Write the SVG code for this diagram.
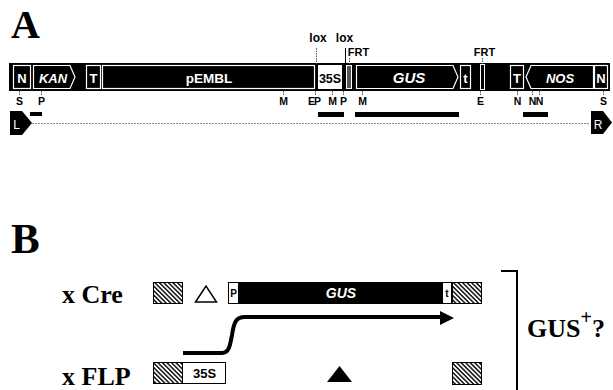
<svg xmlns="http://www.w3.org/2000/svg" width="613" height="390" viewBox="0 0 613 390">
<defs>
<pattern id="hatch" width="6" height="3.2" patternUnits="userSpaceOnUse" patternTransform="rotate(45)">
<rect width="6" height="3.2" fill="#fff"/>
<line x1="0" y1="0.8" x2="6" y2="0.8" stroke="#000" stroke-width="1.4"/>
</pattern>
</defs>
<style>
.big{font-family:"Liberation Serif",serif;font-weight:bold;fill:#000}
.lbl{font-family:"Liberation Sans",Arial,sans-serif;font-weight:bold;fill:#000}
.wt{font-family:"Liberation Sans",Arial,sans-serif;font-weight:bold;fill:#fff}
.it{font-style:italic}
.box{fill:#000;stroke:#fff;stroke-width:1.2}
.tick{stroke:#555;stroke-width:1;stroke-dasharray:1.5,1}
.site{font-family:"Liberation Sans",Arial,sans-serif;font-weight:bold;font-size:10.5px;fill:#000;text-anchor:middle}
.hat{fill:url(#hatch);stroke:#000;stroke-width:1}
</style>
<rect width="613" height="390" fill="#fff"/>

<text class="big" x="11" y="38" font-size="40">A</text>
<text class="big" x="11" y="253" font-size="43">B</text>

<g id="construct">
<rect x="9" y="63" width="601" height="28" fill="#000"/>
<g id="N-left"><rect class="box" x="13.5" y="65.5" width="17" height="23"/><text class="wt" x="22" y="82.5" font-size="13" text-anchor="middle">N</text></g>
<g id="KAN"><path class="box" d="M33.5,65.5 H70 L75,77 L70,88.5 H33.5 Z"/><text class="wt it" x="53" y="82.5" font-size="13" text-anchor="middle">KAN</text></g>
<g id="T-left"><rect class="box" x="86.5" y="65.5" width="14" height="23"/><text class="wt" x="93.5" y="82.5" font-size="13" text-anchor="middle">T</text></g>
<g id="pEMBL"><rect class="box" x="102.5" y="65.5" width="212" height="23"/><text class="wt" x="209" y="82.5" font-size="13.5" text-anchor="middle">pEMBL</text></g>
<g id="p35S"><rect x="317.5" y="64.5" width="25" height="25" fill="#fff" stroke="#000" stroke-width="1"/><text class="lbl" x="330" y="82.5" font-size="12.5" text-anchor="middle">35S</text></g>
<g id="lox-bar"><rect x="346.5" y="65.5" width="5" height="23" fill="#555" stroke="#fff" stroke-width="1"/></g>
<g id="GUS"><path class="box" d="M356.5,65.5 H453 L458,77 L453,88.5 H356.5 Z"/><text class="wt it" x="409" y="83" font-size="15" text-anchor="middle">GUS</text></g>
<g id="t-box"><rect class="box" x="460.5" y="65.5" width="10" height="23"/><text class="wt" x="465.5" y="82.5" font-size="13" text-anchor="middle">t</text></g>
<g id="FRT-bar"><rect x="480.5" y="64.5" width="4" height="25" fill="#000" stroke="#fff" stroke-width="1"/></g>
<g id="T-right"><rect class="box" x="510.5" y="65.5" width="13" height="23"/><text class="wt" x="517" y="82.5" font-size="13" text-anchor="middle">T</text></g>
<g id="NOS"><path class="box" d="M593.5,65.5 H531 L526,77 L531,88.5 H593.5 Z"/><text class="wt it" x="560" y="82.5" font-size="13" text-anchor="middle">NOS</text></g>
<g id="N-right"><rect class="box" x="594.5" y="65.5" width="13" height="23"/><text class="wt" x="601" y="82.5" font-size="13" text-anchor="middle">N</text></g>
</g>

<g id="site-labels">
<line class="tick" x1="316.5" y1="48" x2="316.5" y2="64"/>
<text class="lbl" x="318" y="42" font-size="12" text-anchor="middle">lox</text>
<line x1="345.5" y1="48" x2="345.5" y2="64" stroke="#000" stroke-width="1"/>
<text class="lbl" x="344.5" y="42" font-size="12" text-anchor="middle">lox</text>
<line class="tick" x1="349.5" y1="58" x2="349.5" y2="64"/>
<text class="lbl" x="358.5" y="56" font-size="11" text-anchor="middle">FRT</text>
<line class="tick" x1="482.5" y1="58" x2="482.5" y2="64"/>
<text class="lbl" x="484.5" y="56" font-size="11" text-anchor="middle">FRT</text>
</g>

<g id="restriction-sites">
<line class="tick" x1="19.5" y1="91" x2="19.5" y2="96"/><text class="site" x="19.5" y="105">S</text>
<line class="tick" x1="41.5" y1="91" x2="41.5" y2="96"/><text class="site" x="41.5" y="105">P</text>
<line class="tick" x1="283.5" y1="91" x2="283.5" y2="96"/><text class="site" x="283.5" y="105">M</text>
<line class="tick" x1="315.5" y1="91" x2="315.5" y2="96"/><text class="site" x="311.5" y="105">E</text><text class="site" x="317.5" y="105">P</text>
<line class="tick" x1="332.5" y1="91" x2="332.5" y2="96"/><text class="site" x="332.5" y="105">M</text>
<line class="tick" x1="343.5" y1="91" x2="343.5" y2="96"/><text class="site" x="343.5" y="105">P</text>
<line class="tick" x1="362.5" y1="91" x2="362.5" y2="96"/><text class="site" x="362.5" y="105">M</text>
<line class="tick" x1="480.5" y1="91" x2="480.5" y2="96"/><text class="site" x="480.5" y="105">E</text>
<line class="tick" x1="517.5" y1="91" x2="517.5" y2="96"/><text class="site" x="517.5" y="105">N</text>
<line class="tick" x1="532.5" y1="91" x2="532.5" y2="96"/><text class="site" x="532.5" y="105">N</text>
<line class="tick" x1="539.5" y1="91" x2="539.5" y2="96"/><text class="site" x="539.5" y="105">N</text>
<line class="tick" x1="603.5" y1="91" x2="603.5" y2="96"/><text class="site" x="603.5" y="105">S</text>
</g>

<g id="probes">
<rect x="30" y="112" width="12" height="4" fill="#000"/>
<rect x="318" y="112" width="26" height="5" fill="#000"/>
<rect x="355" y="112" width="104" height="5" fill="#000"/>
<rect x="523" y="112" width="25" height="5" fill="#000"/>
</g>

<g id="border-line">
<line x1="32" y1="123.5" x2="590" y2="123.5" stroke="#888" stroke-width="1" stroke-dasharray="2,1"/>
<g id="L-border"><path d="M10,111 H22 L32,123 L22,135 H10 Z" fill="#000"/><text x="16.5" y="129" font-family="Liberation Sans,Arial,sans-serif" font-size="12" fill="#fff" text-anchor="middle">L</text></g>
<g id="R-border"><path d="M591,111 H603 L612,122.5 L603,134 H591 Z" fill="#000"/><text x="598" y="128.5" font-family="Liberation Sans,Arial,sans-serif" font-size="12" fill="#fff" text-anchor="middle">R</text></g>
</g>

<g id="cre-row">
<text class="big" x="62" y="303" font-size="26">x Cre</text>
<rect class="hat" x="153.5" y="282.5" width="29" height="21"/>
<path d="M195.5,302 L206,286 L216.5,302 Z" fill="#fff" stroke="#000" stroke-width="1.5"/>
<rect x="228.5" y="282.5" width="10" height="21" fill="#fff" stroke="#000" stroke-width="1"/>
<text class="lbl" x="233.5" y="297" font-size="10" text-anchor="middle">P</text>
<rect x="239" y="282" width="203" height="22" fill="#000"/>
<text class="wt it" x="341" y="298" font-size="14" text-anchor="middle">GUS</text>
<rect x="442.5" y="282.5" width="9" height="21" fill="#fff" stroke="#000" stroke-width="1"/>
<text class="lbl" x="447" y="297" font-size="10" text-anchor="middle">t</text>
<rect class="hat" x="452.5" y="282.5" width="29" height="21"/>
</g>

<g id="connectors">
<path d="M183,353 H222 C229,353 230,346 232,335 C234,322 236,317 245,317 H441" fill="none" stroke="#000" stroke-width="4"/>
<path d="M440,311 L454,318 L440,325 Z" fill="#000"/>
</g>

<g id="flp-row">
<text class="big" x="62" y="385" font-size="26">x FLP</text>
<rect class="hat" x="153.5" y="362.5" width="29" height="21"/>
<rect x="182.5" y="362.5" width="43" height="21" fill="#fff" stroke="#000" stroke-width="1"/>
<text class="lbl" x="204.5" y="378" font-size="13" text-anchor="middle">35S</text>
<path d="M327,382 L339.5,366 L352,382 Z" fill="#000"/>
<rect class="hat" x="452.5" y="362.5" width="29" height="22"/>
</g>

<g id="result">
<path d="M501,271 H517 V390" fill="none" stroke="#000" stroke-width="2"/>
<text class="big" x="527" y="337" font-size="26">GUS<tspan dy="-13" font-size="20">+</tspan><tspan dy="13">?</tspan></text>
</g>
</svg>
